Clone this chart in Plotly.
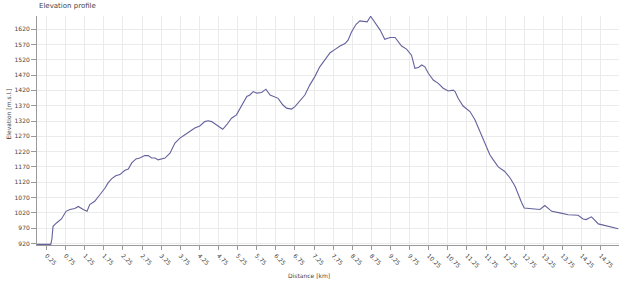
import plotly.graph_objects as go

distance_km = [0.00, 0.36, 0.39, 0.42, 0.51, 0.64, 0.76, 0.86, 0.99, 1.08, 1.21, 1.31, 1.38, 1.51,
               1.65, 1.78, 1.86, 1.95, 2.06, 2.17, 2.30, 2.39, 2.48, 2.59, 2.69, 2.82, 2.91, 3.00,
               3.09, 3.17, 3.35, 3.48, 3.61, 3.74, 3.87, 4.00, 4.13, 4.26, 4.39, 4.48, 4.57, 4.70,
               4.86, 4.96, 5.09, 5.22, 5.35, 5.49, 5.57, 5.66, 5.75, 5.88, 5.99, 6.10, 6.31, 6.43,
               6.53, 6.66, 6.75, 6.88, 7.01, 7.14, 7.27, 7.40, 7.53, 7.67, 7.80, 7.93, 8.06, 8.14,
               8.23, 8.35, 8.45, 8.64, 8.73, 8.84, 8.98, 9.10, 9.24, 9.37, 9.43, 9.54, 9.67, 9.80,
               9.89, 9.98, 10.07, 10.15, 10.24, 10.37, 10.50, 10.63, 10.76, 10.89, 10.94, 11.02,
               11.15, 11.33, 11.46, 11.59, 11.72, 11.85, 11.94, 12.07, 12.24, 12.38, 12.51, 12.59,
               12.68, 12.75, 12.94, 13.16, 13.29, 13.47, 13.68, 13.90, 14.16, 14.29, 14.37, 14.51,
               14.69, 14.86, 14.99, 15.21]
elevation_m = [917, 917, 935, 976, 987, 1000, 1025, 1031, 1034, 1041, 1031, 1025, 1047, 1058,
               1080, 1101, 1118, 1131, 1141, 1145, 1159, 1163, 1183, 1196, 1199, 1207, 1207, 1199,
               1199, 1193, 1199, 1215, 1248, 1264, 1275, 1286, 1297, 1304, 1318, 1321, 1318, 1307,
               1293, 1307, 1329, 1340, 1367, 1400, 1405, 1416, 1411, 1413, 1424, 1405, 1394, 1373,
               1362, 1359, 1367, 1387, 1405, 1438, 1465, 1497, 1519, 1543, 1554, 1565, 1573, 1584,
               1611, 1636, 1647, 1644, 1662, 1641, 1617, 1587, 1593, 1593, 1582, 1565, 1555, 1535,
               1492, 1495, 1503, 1497, 1476, 1454, 1443, 1427, 1418, 1421, 1416, 1394,
               1369, 1351, 1324, 1286, 1248, 1210, 1193, 1170, 1155, 1134, 1107, 1080,
               1054, 1036, 1033, 1031, 1044, 1025, 1020, 1014, 1012, 1000, 998, 1007,
               984, 979, 973, 968]

x_tick_values = [0.25 + 0.5 * i for i in range(30)]
x_tick_labels = [f"{v:.2f}" for v in x_tick_values]
y_tick_values = list(range(920, 1621, 50))

title_text = "Elevation profile"
x_title = "Distance [km]"
y_title = "Elevation [m.s.l.]"

FONT = "DejaVu Sans"
TXT = "#444444"

fig = go.Figure()
fig.add_trace(go.Scatter(
    x=distance_km, y=elevation_m, mode="lines",
    line=dict(color="#64629c", width=1.1),
    hoverinfo="skip", showlegend=False,
))

fig.update_layout(
    width=640, height=293,
    margin=dict(l=37, r=21, t=16, b=48),
    paper_bgcolor="white", plot_bgcolor="white",
    font=dict(family=FONT, size=6, color=TXT),
    xaxis=dict(
        range=[0, 15.23], tickmode="array", tickvals=x_tick_values, ticktext=x_tick_labels,
        tickangle=45, tickfont=dict(size=6, color=TXT),
        showgrid=True, gridcolor="#ebebeb", gridwidth=1,
        showline=True, linecolor="#9a9a9a", linewidth=1,
        ticks="outside", ticklen=4, tickcolor="#9a9a9a",
        zeroline=False, fixedrange=True,
    ),
    yaxis=dict(
        range=[915, 1663], tickmode="array", tickvals=y_tick_values,
        tickfont=dict(size=6, color=TXT),
        showgrid=True, gridcolor="#ebebeb", gridwidth=1,
        showline=True, linecolor="#9a9a9a", linewidth=1,
        ticks="outside", ticklen=5, tickcolor="#9a9a9a",
        zeroline=False, fixedrange=True,
    ),
    annotations=[
        dict(text=title_text, xref="paper", yref="paper", x=0.0, y=1.0, yshift=10,
             xanchor="left", yanchor="middle", showarrow=False,
             font=dict(family=FONT, size=7, color=TXT)),
        dict(text=x_title, xref="paper", yref="paper", x=0.468, y=0, yshift=-30,
             xanchor="center", yanchor="middle", showarrow=False,
             font=dict(family=FONT, size=6, color=TXT)),
        dict(text=y_title, xref="paper", yref="paper", x=0, xshift=-29, y=0.57,
             xanchor="center", yanchor="middle", textangle=-90, showarrow=False,
             font=dict(family=FONT, size=6, color=TXT)),
    ],
)

fig.write_html("out.html", config={"displayModeBar": False})
